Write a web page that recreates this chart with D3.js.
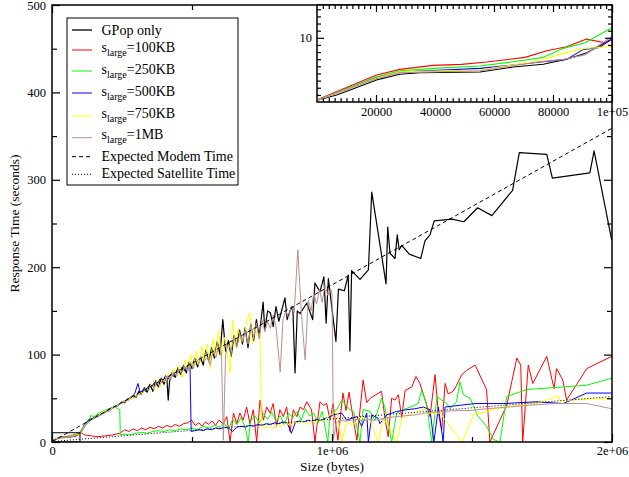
<!DOCTYPE html>
<html><head><meta charset="utf-8">
<script src="https://cdn.jsdelivr.net/npm/d3@7"></script>
<style>
body{margin:0;background:#fff}
svg{display:block}
text{font-family:"Liberation Serif","Times New Roman",serif;fill:#000}
</style>
</head><body>
<svg id="c" width="629" height="477"></svg>
<script>
// ---- data: [size in KB, response time s] ----
const gpop = [[0.45,1.28],[6.7,1.98],[20.2,4.1],[28.1,4.9],[34.9,5.1],[55.3,5.2],[66.5,5.9],[76.7,6.3],[84.6,7.0],[91.5,7.9],[99.3,9.7],
[110,15],[120,20],[130,24],[140,26],[150,27],[160,30],[170,31],[180,33],[190,34],[200,37],[210,38],[220,40],[230,41],[240,43],[250,46],[260,45],[270,49],[280,50],[290,53],[300,51],[310,58],[320,55],[330,62],[340,57],[350,66],[360,58],[370,70],[380,63],[390,73],[400,66],[410,74],[415,48],[420,70],[430,80],[440,74],[450,85],[460,77],[470,88],[480,79],[490,92],[500,84],[510,96],[520,86],[530,97],[540,88],[550,105],[560,92],[570,108],[580,96],[590,115],[600,100],[610,140],[620,104],[630,116],[640,98],[650,122],[660,110],[670,128],[680,112],[690,131],[700,108],[710,135],[720,116],[730,140],[740,121],[754,160],[760,128],[770,150],[780,148],[790,132],[800,155],[810,138],[820,150],[832,165],[840,140],[850,150],[860,155],[868,79],[876,150],
[886,147],[910,159],[931,140],[939,182],[957,172],[971,189],[979,136],[987,187],[1014,115],[1023,175],[1044,173],[1058,191],[1064,104],[1070,196],[1100,186],[1130,197],[1142,286],[1193,181],[1199,246],[1207,216],[1225,210],[1233,237],[1240,220],[1249,225],[1276,215],[1317,210],[1332,230],[1350,237],[1365,253],[1428,255],[1471,252],[1520,268],[1571,259],[1645,288],[1669,331],[1767,329],[1787,302],[1921,308],[1936,333],[1999,231]];

const large100 = [[0.45,1.37],[20.2,4.78],[28.1,5.57],[39.4,6.13],[49.0,6.27],[57.5,6.6],[70.5,7.26],[77.9,8.19],[84.6,8.75],[91.4,9.82],[97.6,9.31],[100.1,9.77],
[104,10.6],[117,8],[140,7],[164,6],[190,7],[215,8],[242,10],[260,14],[275,12],[290,15],[305,13],[320,16],[335,14],[350,17],[365,15],[380,18],[395,16],[410,19],[425,17],[440,20],[455,18],[470,21],[486,22],[498,25],[512,19],[524,22],[536,18],[548,23],[560,20],[572,24],[584,19],[596,25],[611,21],[624,29],[636,0],[648,33],[660,21],[671,33],[683,25],[695,40],[707,21],[719,37],[731,0],[743,48],[755,25],[767,40],[779,33],[790,44],[802,18],[814,37],[826,29],[838,40],[850,12],[862,37],[874,29],[886,40],[898,37],[910,46],[927,37],[939,0],[957,46],[970,42],[981,44],[993,25],[1004,44],[1021,2],[1039,56],[1050,36],[1061,57],[1070,38],[1089,2],[1111,71],[1124,45],[1136,50],[1177,58],[1189,27],[1201,6],[1213,50],[1225,48],[1237,54],[1249,28],[1261,59],[1285,63],[1300,75],[1314,67],[1326,55],[1350,29],[1368,77],[1380,33],[1392,14],[1404,67],[1415,55],[1433,58],[1445,65],[1463,77],[1481,82],[1511,88],[1552,60],[1564,0],[1624,42],[1660,96],[1674,88],[1681,0],[1701,88],[1717,67],[1767,98],[1793,61],[1802,84],[1824,71],[1838,48],[1910,84],[1999,98]];

const large250 = [[0.45,1.3],[20.2,4.55],[28.1,5.39],[39.4,5.71],[55.3,6.04],[66.5,6.65],[76.7,7.26],[83.5,8.52],[90.8,9.31],[100.1,11.46],
[105,14],[115,19],[125,24],[135,27],[140,31],[145,29],[155,30],[165,33],[175,34],[185,36],[195,37],[205,38],[215,39],[225,40],[235,38],[242,37],[244,8],[260,9],[280,8],[300,10],[320,11],[340,10],[360,12],[380,13],[400,12],[420,14],[440,13],[460,15],[480,14],[500,16],[520,14],[540,18],[560,16],[580,19],[600,17],[615,22],[630,14],[645,26],[660,20],[675,28],[690,17],[700,0],[710,24],[725,30],[740,22],[755,32],[770,26],[785,34],[800,24],[815,30],[830,20],[845,33],[860,28],[875,35],[890,25],[905,38],[920,30],[935,33],[950,22],[965,35],[985,0],[993,31],[1017,37],[1035,48],[1060,38],[1077,35],[1100,0],[1111,37],[1136,35],[1153,25],[1177,50],[1189,40],[1213,0],[1231,33],[1255,37],[1279,40],[1308,44],[1320,59],[1338,44],[1356,0],[1375,52],[1410,44],[1422,38],[1445,46],[1457,69],[1469,54],[1493,50],[1505,42],[1520,30],[1552,18],[1576,3],[1600,0],[1624,52],[1695,60],[1826,63],[1910,65],[1999,73]];

const large500 = [[0.45,1.3],[20.2,4.41],[28.1,5.2],[55.3,5.71],[76.7,6.65],[84.6,6.98],[90.3,8.38],[95.9,8.66],[100.1,9.91],
[105,12],[115,19],[125,23],[135,26],[145,27],[155,29],[165,31],[175,32],[185,34],[195,36],[205,38],[215,39],[225,41],[235,42],[245,45],[255,46],[265,48],[275,50],[285,52],[295,55],[307,67],[315,56],[325,60],[335,58],[345,64],[355,62],[365,68],[375,65],[385,72],[395,69],[405,76],[415,72],[425,78],[435,75],[445,82],[455,79],[465,86],[475,81],[485,88],[493,85],[497,12],[510,13],[525,14],[540,13],[555,15],[570,14],[585,16],[600,15],[615,17],[630,16],[645,12],[660,17],[675,18],[690,17],[705,19],[720,18],[735,20],[750,19],[765,21],[780,20],[795,22],[810,21],[825,23],[840,22],[855,10],[870,23],[885,24],[900,23],[915,25],[930,24],[945,26],[960,25],[975,27],[993,29],[1004,31],[1035,33],[1052,25],[1089,29],[1106,18],[1124,33],[1130,0],[1142,31],[1165,27],[1171,21],[1195,31],[1231,35],[1267,37],[1296,38],[1326,40],[1350,37],[1364,0],[1380,40],[1397,0],[1404,40],[1457,42],[1511,44],[1612,44],[1731,46],[1826,44],[1910,56],[1999,56]];

const large750 = [[0.45,1.3],[20.2,4.36],[28.1,5.25],[55.3,5.48],[75.6,6.79],[83.5,7.82],[90.8,8.52],[100.1,8.75],
[105,12],[115,18],[125,22],[135,25],[145,26],[155,29],[165,30],[175,33],[185,35],[195,36],[205,37],[215,39],[225,41],[235,42],[245,45],[255,47],[265,46],[275,50],[285,48],[295,54],[305,52],[315,57],[325,55],[335,63],[345,58],[355,67],[365,60],[375,72],[385,62],[395,74],[405,68],[415,79],[425,73],[435,84],[445,76],[455,88],[465,73],[475,94],[485,80],[495,100],[505,85],[515,104],[525,88],[535,110],[545,92],[555,112],[565,84],[575,118],[585,98],[595,128],[605,95],[615,120],[625,105],[636,79],[645,140],[655,108],[665,130],[675,115],[685,118],[695,138],[707,148],[715,112],[725,130],[735,122],[743,125],[748,17],[760,16],[775,19],[790,15],[805,20],[820,18],[835,22],[850,19],[865,23],[880,21],[895,24],[910,20],[925,25],[940,22],[955,26],[970,24],[993,31],[1017,35],[1035,0],[1052,23],[1076,19],[1100,29],[1136,25],[1165,0],[1183,27],[1201,19],[1231,0],[1249,27],[1279,31],[1302,35],[1332,38],[1344,33],[1386,33],[1465,0],[1505,31],[1612,40],[1731,44],[1808,53],[1814,47],[1910,49],[1999,50]];

const large1MB = [[0.45,1.3],[20.2,4.27],[28.1,5.1],[55.3,5.39],[75.6,6.65],[83.5,6.98],[90.8,7.58],[100.1,10.24],
[105,11],[115,17],[125,21],[135,24],[145,26],[155,28],[165,29],[175,31],[185,33],[195,35],[205,35],[215,38],[225,40],[235,43],[245,44],[255,45],[265,47],[275,48],[285,53],[295,50],[305,55],[315,54],[325,57],[335,62],[345,59],[355,65],[365,62],[375,68],[385,65],[395,71],[405,70],[415,76],[425,72],[435,79],[445,75],[455,83],[465,80],[475,86],[485,81],[495,91],[505,84],[515,95],[525,90],[535,98],[545,93],[555,97],[565,88],[575,104],[585,96],[595,110],[605,104],[612,2],[620,100],[630,112],[640,105],[650,120],[660,108],[670,124],[680,115],[690,126],[700,112],[710,132],[720,120],[730,136],[740,118],[750,140],[760,126],[770,138],[780,130],[790,145],[800,132],[815,80],[825,140],[835,150],[845,142],[855,156],[865,148],[878,220],[890,150],[904,94],[915,162],[925,150],[935,170],[945,158],[955,175],[965,160],[975,180],[985,168],[995,175],[1000,170],[1005,2],[1015,22],[1030,25],[1050,24],[1070,25],[1090,26],[1110,24],[1130,26],[1150,25],[1171,26],[1200,28],[1230,29],[1260,30],[1296,31],[1330,33],[1360,34],[1400,35],[1450,36],[1493,36],[1550,38],[1630,40],[1700,42],[1790,44],[1910,44],[1999,38]];

const modemTime = [[0,0.5],[2000,359]];
const satelliteTime = [[0,0.5],[2000,52]];

const seriesNames = ["GPop only","100KB","250KB","500KB","750KB","1MB"];
const seriesColors = ["#000000","#ff0000","#00ff00","#0000ff","#ffff00","#bc8f8f"];
const seriesData = [gpop, large100, large250, large500, large750, large1MB];

const yTicks = [0,100,200,300,400,500];
const yMinor = [50,150,250,350,450];
const xTicks = [0,1e6,2e6];
const xTickLabels = ["0","1e+06","2e+06"];
const xMinor = [5e5,1.5e6];
const insetXTicks = [20000,40000,60000,80000,100000];
const insetXTickLabels = ["20000","40000","60000","80000","1e+05"];
const insetYTicks = [10];
const insetYTickLabels = ["10"];

// ---- layout ----
const svg = d3.select("#c");
const P = {l:52, r:612, t:5, b:442};
const x = d3.scaleLinear().domain([0,2e6]).range([P.l,P.r]);
const y = d3.scaleLinear().domain([0,500]).range([P.b,P.t]);
const defs = svg.append("defs");
defs.append("clipPath").attr("id","mainClip").append("rect")
  .attr("x",P.l).attr("y",P.t).attr("width",P.r-P.l).attr("height",P.b-P.t);

const line = d3.line().x(d=>x(d[0]*1000)).y(d=>y(d[1]));
const gMain = svg.append("g").attr("clip-path","url(#mainClip)");
seriesData.forEach((s,i)=>{
  gMain.append("path").datum(s).attr("d",line).attr("fill","none")
    .attr("stroke",seriesColors[i]).attr("stroke-width", i===0?1.2:1).attr("stroke-linejoin","round");
});
gMain.append("path").datum(modemTime).attr("d",line).attr("fill","none")
  .attr("stroke","#000").attr("stroke-width",1).attr("stroke-dasharray","4,3");
gMain.append("path").datum(satelliteTime).attr("d",line).attr("fill","none")
  .attr("stroke","#000").attr("stroke-width",1).attr("stroke-dasharray","1,2");
// zoom region box
gMain.append("rect").attr("x",x(0)).attr("y",y(10.6)).attr("width",x(1e5)-x(0)).attr("height",y(0)-y(10.6))
  .attr("fill","none").attr("stroke","#000").attr("stroke-width",1);

// axes
function styleAxis(g){ g.select(".domain").remove(); g.selectAll("line").attr("stroke","#000").attr("stroke-width",1.2);
  g.selectAll("text").attr("font-family","Liberation Serif").attr("font-size",12.5).attr("fill","#000"); }
svg.append("g").attr("transform",`translate(${P.l},0)`)
  .call(d3.axisLeft(y).tickValues(yTicks).tickSize(-8).tickPadding(6).tickFormat(d3.format("d"))).call(styleAxis);
svg.append("g").attr("transform",`translate(${P.l},0)`)
  .call(d3.axisLeft(y).tickValues(yMinor).tickSize(-5).tickFormat("")).call(styleAxis);
svg.append("g").attr("transform",`translate(${P.r},0)`)
  .call(d3.axisRight(y).tickValues(yTicks).tickSize(-8).tickFormat("")).call(styleAxis);
svg.append("g").attr("transform",`translate(${P.r},0)`)
  .call(d3.axisRight(y).tickValues(yMinor).tickSize(-5).tickFormat("")).call(styleAxis);
svg.append("g").attr("transform",`translate(0,${P.b})`)
  .call(d3.axisBottom(x).tickValues(xTicks).tickSize(-8).tickPadding(4).tickFormat((d,i)=>xTickLabels[i])).call(styleAxis);
svg.append("g").attr("transform",`translate(0,${P.b})`)
  .call(d3.axisBottom(x).tickValues(xMinor).tickSize(-5).tickFormat("")).call(styleAxis);
svg.append("g").attr("transform",`translate(0,${P.t})`)
  .call(d3.axisTop(x).tickValues(xTicks).tickSize(-8).tickFormat("")).call(styleAxis);
svg.append("g").attr("transform",`translate(0,${P.t})`)
  .call(d3.axisTop(x).tickValues(xMinor).tickSize(-5).tickFormat("")).call(styleAxis);
svg.append("rect").attr("x",P.l).attr("y",P.t).attr("width",P.r-P.l).attr("height",P.b-P.t)
  .attr("fill","none").attr("stroke","#000").attr("stroke-width",1.5);

svg.append("text").attr("x",(P.l+P.r)/2).attr("y",471).attr("text-anchor","middle")
  .attr("font-size",13.5).text("Size (bytes)");
svg.append("text").attr("transform",`translate(19,${(P.t+P.b)/2}) rotate(-90)`).attr("text-anchor","middle")
  .attr("font-size",13.5).text("Response Time (seconds)");

// ---- inset ----
const I = {l:317, r:612, t:5, b:102};
const xi = d3.scaleLinear().domain([0,100000]).range([I.l,I.r]);
const yi = d3.scaleLinear().domain([1,14.6]).range([I.b,I.t]);
svg.append("rect").attr("x",I.l).attr("y",I.t).attr("width",I.r-I.l).attr("height",I.b-I.t).attr("fill","#fff");
defs.append("clipPath").attr("id","insetClip").append("rect")
  .attr("x",I.l).attr("y",I.t).attr("width",I.r-I.l).attr("height",I.b-I.t);
const lineI = d3.line().x(d=>xi(d[0]*1000)).y(d=>yi(d[1]));
const gIn = svg.append("g").attr("clip-path","url(#insetClip)");
seriesData.forEach((s,i)=>{
  const sub = s.filter(d=>d[0]<=101);
  gIn.append("path").datum(sub).attr("d",lineI).attr("fill","none")
    .attr("stroke",seriesColors[i]).attr("stroke-width",1.1).attr("stroke-linejoin","round");
});
const xiMinor = d3.range(2000,100000,2000).filter(v=>v%20000!==0);
const yiMinor = d3.range(2,15,1).filter(v=>v!==10);
svg.append("g").attr("transform",`translate(${I.l},0)`)
  .call(d3.axisLeft(yi).tickValues(insetYTicks).tickSize(-7).tickPadding(5).tickFormat((d,i)=>insetYTickLabels[i])).call(styleAxis);
svg.append("g").attr("transform",`translate(${I.l},0)`)
  .call(d3.axisLeft(yi).tickValues(yiMinor).tickSize(-4).tickFormat("")).call(styleAxis);
svg.append("g").attr("transform",`translate(${I.r},0)`)
  .call(d3.axisRight(yi).tickValues(insetYTicks).tickSize(-7).tickFormat("")).call(styleAxis);
svg.append("g").attr("transform",`translate(${I.r},0)`)
  .call(d3.axisRight(yi).tickValues(yiMinor).tickSize(-4).tickFormat("")).call(styleAxis);
svg.append("g").attr("transform",`translate(0,${I.b})`)
  .call(d3.axisBottom(xi).tickValues(insetXTicks).tickSize(-7).tickPadding(5).tickFormat((d,i)=>insetXTickLabels[i])).call(styleAxis);
svg.append("g").attr("transform",`translate(0,${I.b})`)
  .call(d3.axisBottom(xi).tickValues(xiMinor).tickSize(-4).tickFormat("")).call(styleAxis);
svg.append("g").attr("transform",`translate(0,${I.t})`)
  .call(d3.axisTop(xi).tickValues(insetXTicks).tickSize(-7).tickFormat("")).call(styleAxis);
svg.append("g").attr("transform",`translate(0,${I.t})`)
  .call(d3.axisTop(xi).tickValues(xiMinor).tickSize(-4).tickFormat("")).call(styleAxis);
svg.append("rect").attr("x",I.l).attr("y",I.t).attr("width",I.r-I.l).attr("height",I.b-I.t)
  .attr("fill","none").attr("stroke","#000").attr("stroke-width",1.5);

// ---- legend ----
const L = {x:67, y:18, w:171, h:167};
svg.append("rect").attr("x",L.x).attr("y",L.y).attr("width",L.w).attr("height",L.h)
  .attr("fill","#fff").attr("stroke","#000").attr("stroke-width",1);
const legendLineY = [30,50,71,93,116,137.7,156.7,174.3];
const legendBase = [34.5,52,73.5,95.5,117.5,139.3,160.7,178.3];
const legendColors = seriesColors.concat(["#000","#000"]);
const legendDash = [null,null,null,null,null,null,"4,3","1,2"];
legendLineY.forEach((ly,i)=>{
  svg.append("line").attr("x1",72).attr("x2",92).attr("y1",ly).attr("y2",ly)
    .attr("stroke",legendColors[i]).attr("stroke-width",i===0?1.3:1).attr("stroke-dasharray",legendDash[i]);
  const t = svg.append("text").attr("x",101.5).attr("y",legendBase[i]).attr("font-size",14);
  if(i===0) t.text(seriesNames[0]);
  else if(i<6){
    t.append("tspan").text("s");
    t.append("tspan").attr("font-size",10).attr("dy",4).text("large");
    t.append("tspan").attr("dy",-4).text("="+seriesNames[i]);
  } else t.text(i===6?"Expected Modem Time":"Expected Satellite Time");
});
</script>
</body></html>
